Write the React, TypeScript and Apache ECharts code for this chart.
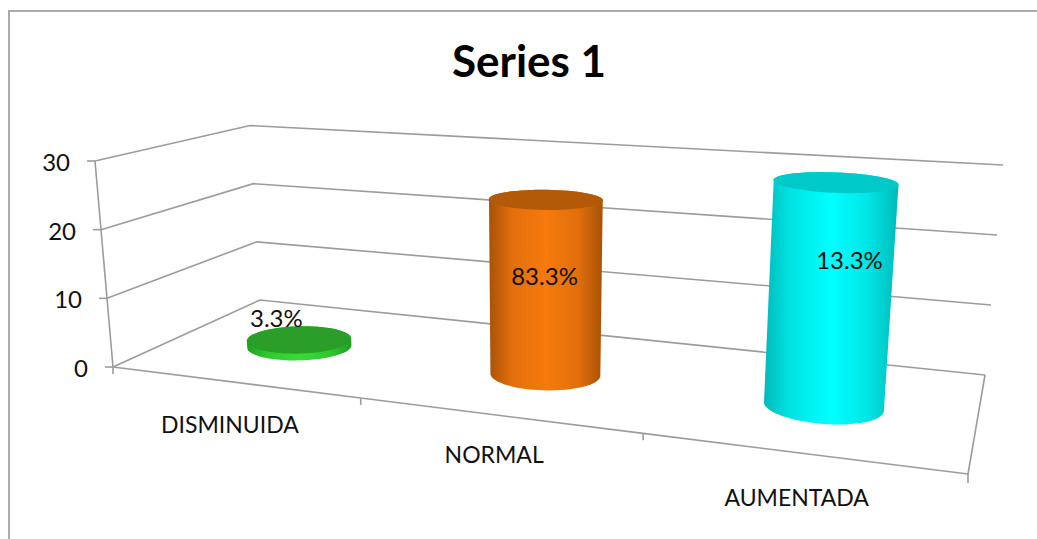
import { useEffect, useRef } from "react";
import * as echarts from "echarts";

// Chart content
const chartTitle = "Series 1";
const categories = ["DISMINUIDA", "NORMAL", "AUMENTADA"];
const heights = [1, 25, 30];
const percentLabels = ["3.3%", "83.3%", "13.3%"];
const valueTicks = [0, 10, 20, 30];
const sideColors = [
  ["#20a020", "#2fc92f", "#38dc38", "#2fc92f", "#20a020"],
  ["#a85206", "#e26f0c", "#f67a0c", "#e26f0c", "#a85206"],
  ["#00baba", "#00e4e4", "#00ffff", "#00e4e4", "#00baba"],
];
const capColors = ["#2a9e28", "#b25a08", "#00c9c9"];

// Floor corners on screen: front-left, front-right, back-right, back-left
type Pt = [number, number];
const floorQuad: Pt[] = [[113, 367], [968, 474], [985, 375], [260, 300]];
// Screen offset from each floor corner up to the top of the value axis
const riseAt: Pt[] = [[-18, -206], [19, -250], [18, -210], [-10, -174.5]];
const labelNudge: Pt[] = [[-23, -25], [-1, -11], [20, -34]];
const categoryDrop = [42, 39, 44];
const FONT = "Lato, Carlito, Calibri, sans-serif";
const LINE = "#9c9c9c";

// Homography taking the unit square onto a quad
function quadMap(q: Pt[]) {
  const [[x0, y0], [x1, y1], [x2, y2], [x3, y3]] = q;
  const dx1 = x1 - x2, dx2 = x3 - x2, sx = x0 - x1 + x2 - x3;
  const dy1 = y1 - y2, dy2 = y3 - y2, sy = y0 - y1 + y2 - y3;
  const den = dx1 * dy2 - dx2 * dy1;
  const g = (sx * dy2 - dx2 * sy) / den;
  const h = (dx1 * sy - sx * dy1) / den;
  const a = x1 - x0 + g * x1, b = x3 - x0 + h * x3;
  const d = y1 - y0 + g * y1, e = y3 - y0 + h * y3;
  return (u: number, w: number): Pt => {
    const z = g * u + h * w + 1;
    return [(a * u + b * w + x0) / z, (d * u + e * w + y0) / z];
  };
}
const onFloor = quadMap(floorQuad);

// u: along the categories, v: share of the value axis, w: depth
function project(u: number, v: number, w: number): Pt {
  const f = onFloor(u, w);
  const lx = onFloor(0, w)[0];
  const rx = onFloor(1, w)[0];
  const s = (f[0] - lx) / (rx - lx);
  const rise = (k: number) => {
    const front = riseAt[0][k] + (riseAt[1][k] - riseAt[0][k]) * s;
    const back = riseAt[3][k] + (riseAt[2][k] - riseAt[3][k]) * s;
    return front + (back - front) * w;
  };
  return [f[0] + rise(0) * v, f[1] + rise(1) * v];
}

// Grid-relative position of a data point given by the hidden axes
function unit(api: any, params: any, cat: number, val: number): Pt {
  const p = api.coord([cat, val]);
  const r = params.coordSys;
  return [(p[0] - r.x) / r.width, (r.y + r.height - p[1]) / r.height];
}

function hull(points: Pt[]): Pt[] {
  const s = [...points].sort((a, b) => a[0] - b[0] || a[1] - b[1]);
  const cross = (o: Pt, a: Pt, b: Pt) =>
    (a[0] - o[0]) * (b[1] - o[1]) - (a[1] - o[1]) * (b[0] - o[0]);
  const build = (list: Pt[]) => {
    const out: Pt[] = [];
    for (const p of list) {
      while (out.length >= 2 && cross(out[out.length - 2], out[out.length - 1], p) <= 0) out.pop();
      out.push(p);
    }
    out.pop();
    return out;
  };
  return [...build(s), ...build([...s].reverse())];
}

const line = (points: Pt[]) => ({
  type: "polyline",
  shape: { points },
  style: { stroke: LINE, lineWidth: 1.6, fill: "none" },
});

const label = (text: string, x: number, y: number, align: string, size = 24) => ({
  type: "text",
  style: { text, x, y, align, verticalAlign: "middle", fill: "#111", fontFamily: FONT, fontSize: size },
});

function renderGridline(params: any, api: any) {
  const [, v] = unit(api, params, 0, api.value(1));
  const front = project(0, v, 0);
  const corner = project(0, v, 1);
  const right = project(1, v, 1);
  return {
    type: "group",
    children: [
      line([front, corner, right]),
      line([[front[0] - 8, front[1]], front]),
      label(String(api.value(1)), front[0] - 25, front[1] + 0.5, "right"),
    ],
  };
}

function renderCategoryAxis(params: any, api: any) {
  const i = api.value(0);
  const band = api.size([1, 0])[0] / params.coordSys.width;
  const [u] = unit(api, params, i, 0);
  const left = project(u - band / 2, 0, 0);
  const right = project(u + band / 2, 0, 0);
  const mid = project(u, 0, 0);
  const children: any[] = [
    line([left, right]),
    line([left, [left[0], left[1] + 7]]),
    label(categories[i], mid[0] - 3, mid[1] + categoryDrop[i], "center", 23),
  ];
  if (i === categories.length - 1) {
    children.push(line([right, [right[0], right[1] + 9]]));
    children.push(line([right, project(1, 0, 1)]));
    children.push(line([project(0, 0, 0), project(0, 1, 0)]));
  }
  return { type: "group", children };
}

function renderCylinder(params: any, api: any) {
  const i = api.value(0);
  const band = api.size([1, 0])[0] / params.coordSys.width;
  const [u, v] = unit(api, params, i, api.value(1));
  const ru = band * 0.2;
  const rw = 0.18;
  const depth = 0.462;
  const ring = (level: number): Pt[] => {
    const pts: Pt[] = [];
    for (let k = 0; k < 64; k++) {
      const t = (k / 64) * Math.PI * 2;
      pts.push(project(u + ru * Math.cos(t), level, depth + rw * Math.sin(t)));
    }
    return pts;
  };
  const top = ring(v);
  const base = ring(0);
  const c = sideColors[i];
  const side = new echarts.graphic.LinearGradient(0, 0, 1, 0, [
    { offset: 0, color: c[0] },
    { offset: 0.2, color: c[1] },
    { offset: 0.5, color: c[2] },
    { offset: 0.78, color: c[3] },
    { offset: 1, color: c[4] },
  ]);
  const head = project(u, v, depth);
  const foot = project(u, 0, depth);
  const nudge = labelNudge[i];
  return {
    type: "group",
    children: [
      { type: "polygon", shape: { points: hull([...top, ...base]) }, style: { fill: side } },
      { type: "polygon", shape: { points: top }, style: { fill: capColors[i] } },
      label(percentLabels[i], (head[0] + foot[0]) / 2 + nudge[0], (head[1] + foot[1]) / 2 + nudge[1], "center"),
    ],
  };
}

export default function App() {
  const ref = useRef<HTMLDivElement>(null);
  useEffect(() => {
    const chart = echarts.init(ref.current!, undefined, { renderer: "svg" });
    chart.setOption({
      animation: false,
      backgroundColor: "#fff",
      title: {
        text: chartTitle,
        left: 524,
        top: 33,
        textAlign: "center",
        textStyle: { fontFamily: FONT, fontSize: 44, fontWeight: "bold", color: "#000" },
      },
      graphic: [
        {
          type: "polyline",
          shape: { points: [[9, 539], [9, 11], [1037, 11]] },
          style: { stroke: "#ababab", lineWidth: 2, fill: "none" },
        },
      ],
      grid: { left: 100, right: 100, top: 100, bottom: 100 },
      xAxis: { type: "category", data: categories, show: false },
      yAxis: { type: "value", min: 0, max: 30, interval: 10, show: false },
      series: [
        {
          type: "custom",
          name: "Escala",
          data: valueTicks.map((t) => [0, t]),
          renderItem: renderGridline,
          encode: { x: 0, y: 1 },
          silent: true,
          z: 1,
        },
        {
          type: "custom",
          name: "Categorías",
          data: categories.map((_, i) => [i, 0]),
          renderItem: renderCategoryAxis,
          encode: { x: 0, y: 1 },
          silent: true,
          z: 2,
        },
        {
          type: "custom",
          name: chartTitle,
          data: heights.map((h, i) => [i, h]),
          renderItem: renderCylinder,
          encode: { x: 0, y: 1 },
          silent: true,
          z: 3,
        },
      ],
    });
    return () => chart.dispose();
  }, []);
  return <div ref={ref} style={{ position: "fixed", left: 0, top: 0, width: 1037, height: 539 }} />;
}
